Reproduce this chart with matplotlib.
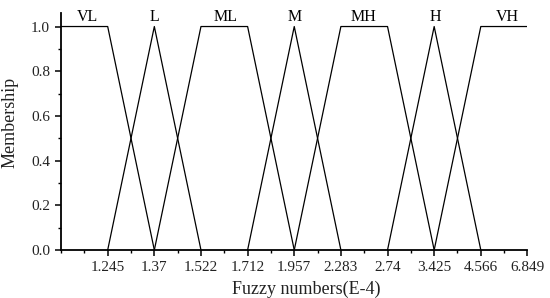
import matplotlib
matplotlib.use("Agg")
import matplotlib.pyplot as plt
from matplotlib.ticker import MultipleLocator

# Tick labels (fuzzy numbers, E-4) at equally spaced positions 1..10
tick_labels = ["1.245", "1.37", "1.522", "1.712", "1.957", "2.283", "2.74", "3.425", "4.566", "6.849"]
tick_pos = list(range(1, len(tick_labels) + 1))

# Membership function breakpoints (x in tick-index units, y membership)
set_names = ["VL", "L", "ML", "M", "MH", "H", "VH"]
set_x = [
    [0, 1, 2],
    [1, 2, 3],
    [2, 3, 4, 5],
    [4, 5, 6],
    [5, 6, 7, 8],
    [7, 8, 9],
    [8, 9, 10],
]
set_y = [
    [1, 1, 0],
    [0, 1, 0],
    [0, 1, 1, 0],
    [0, 1, 0],
    [0, 1, 1, 0],
    [0, 1, 0],
    [0, 1, 1],
]
label_x = [0.57, 2.0, 3.52, 5.02, 6.48, 8.02, 9.57]

fig = plt.figure(figsize=(5.5, 2.98), dpi=100)
ax = fig.add_axes([0.111, 0.161, 0.848, 0.795])

for xs, ys in zip(set_x, set_y):
    ax.plot(xs, ys, color="black", lw=0.9)

for name, lx in zip(set_names, label_x):
    ax.text(lx, 1.008, name, ha="center", va="bottom",
            family="Liberation Serif", fontsize=11.5)

ax.set_xlim(0, 10)
ax.set_ylim(0, 1.06)
ax.set_xticks(tick_pos)
ax.set_xticklabels(tick_labels)
ax.xaxis.set_minor_locator(MultipleLocator(0.5))
ax.set_yticks([0, 0.2, 0.4, 0.6, 0.8, 1.0])
ax.set_yticklabels(["0.0", "0.2", "0.4", "0.6", "0.8", "1.0"])
ax.yaxis.set_minor_locator(MultipleLocator(0.1))

for lab in ax.get_xticklabels() + ax.get_yticklabels():
    lab.set_family("Liberation Serif")
    lab.set_fontsize(11)
    lab.set_color("#222222")

ax.spines["top"].set_visible(False)
ax.spines["right"].set_visible(False)
ax.spines["left"].set_linewidth(1.3)
ax.spines["bottom"].set_linewidth(1.3)
ax.tick_params(which="major", direction="out", length=4, width=1.1, pad=4)
ax.tick_params(which="minor", direction="out", length=2.5, width=1.0)

ax.set_xlabel("Fuzzy numbers(E-4)", family="Liberation Serif", fontsize=13, color="#222222")
ax.set_ylabel("Membership", family="Liberation Serif", fontsize=13, color="#222222")
ax.xaxis.label.set_va("center")
ax.yaxis.label.set_va("center")
ax.xaxis.set_label_coords(0.526, -0.165)
ax.yaxis.set_label_coords(-0.109, 0.54)

fig.savefig("out.png", dpi=100)
